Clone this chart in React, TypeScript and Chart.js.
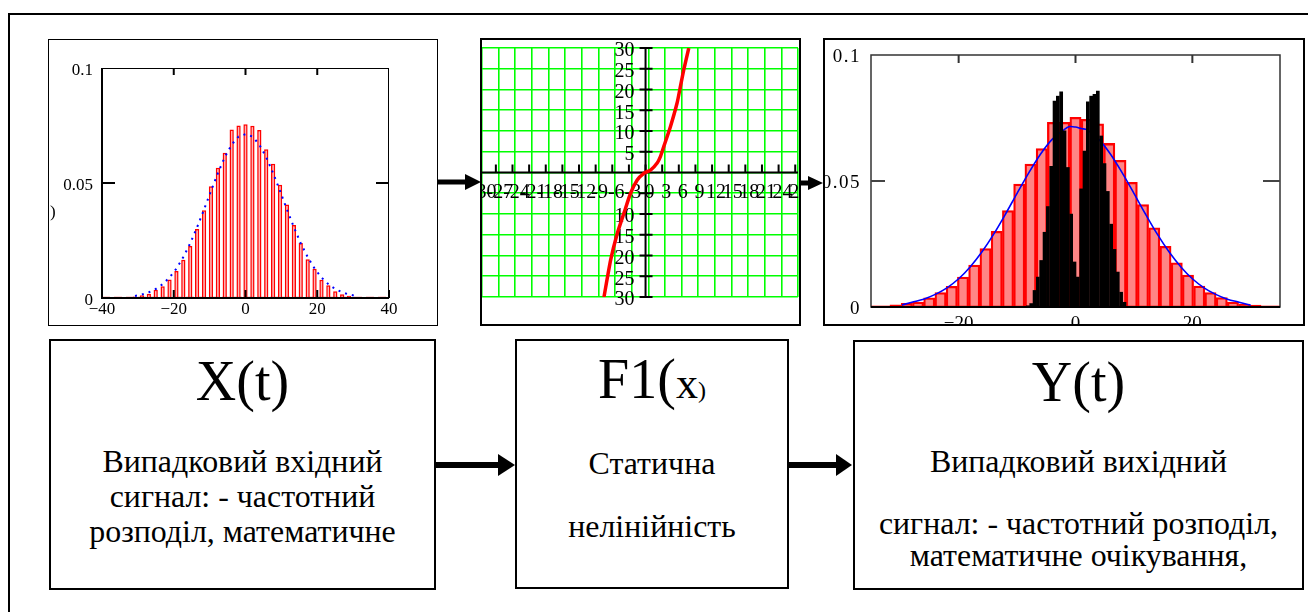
import React, { useEffect, useRef, useMemo } from "react";
import { Chart, registerables } from "chart.js";

Chart.register(...registerables);

const SERIF = '"Liberation Serif", "Times New Roman", serif';
const BODY = SERIF;

// ---------- Panel 1 & 3: histogram of the input signal X(t) ----------
const binCenters = [
  -30.8, -28.88, -26.95, -25.03, -23.1, -21.18, -19.25, -17.33, -15.4, -13.48, -11.55,
  -9.63, -7.7, -5.78, -3.85, -1.93, 0, 1.93, 3.85, 5.78, 7.7, 9.63, 11.55, 13.48, 15.4,
  17.33, 19.25, 21.18, 23.1, 25.03, 26.95, 28.88, 30.8,
];
const inputHist = [
  0.0007, 0.0012, 0.0018, 0.0036, 0.0051, 0.008, 0.0117, 0.0166, 0.0226, 0.03, 0.0382,
  0.0486, 0.0566, 0.0631, 0.0733, 0.075, 0.0755, 0.0749, 0.073, 0.0647, 0.0584, 0.0492,
  0.0407, 0.0317, 0.0239, 0.0169, 0.0127, 0.0079, 0.0055, 0.0029, 0.0016, 0.001, 0.0004,
];
const inputPdf = [
  0.0009, 0.0015, 0.0025, 0.0039, 0.006, 0.0089, 0.0128, 0.0178, 0.0238, 0.0308, 0.0385,
  0.0465, 0.0543, 0.0612, 0.0667, 0.0702, 0.0712, 0.0702, 0.0667, 0.0612, 0.0543, 0.0465,
  0.0385, 0.0308, 0.0238, 0.0178, 0.0128, 0.0089, 0.006, 0.0039, 0.0025, 0.0015, 0.0009,
];
const inputHist3 = [
  0.0009, 0.0015, 0.002, 0.0036, 0.0057, 0.0082, 0.0119, 0.0166, 0.0232, 0.03, 0.0383,
  0.0488, 0.0567, 0.0629, 0.0733, 0.0733, 0.0753, 0.0745, 0.0727, 0.0649, 0.0582, 0.0495,
  0.0406, 0.0314, 0.0241, 0.0175, 0.0127, 0.0083, 0.0057, 0.0037, 0.002, 0.0012, 0.0008,
];
const pdf3X = [
  -29.7, -28, -26, -24, -22, -20, -18, -16, -14, -12, -10, -8, -6, -4, -2, -1, 0, 1, 2, 4,
  6, 8, 10, 12, 14, 16, 18, 20, 22, 24, 26, 28, 30,
];
const pdf3Y = [
  0.0008, 0.0019, 0.0031, 0.005, 0.0076, 0.0112, 0.016, 0.0219, 0.0289, 0.0368, 0.0451,
  0.0532, 0.0606, 0.0665, 0.0703, 0.0716, 0.0714, 0.0708, 0.0703, 0.0665, 0.0606, 0.0532,
  0.0451, 0.0368, 0.0289, 0.0219, 0.016, 0.0112, 0.0076, 0.005, 0.0031, 0.0019, 0.0007,
];

// ---------- Panel 3: histogram of the output signal Y(t) ----------
const outBinCenters = [
  -8.15, -7.58, -7.01, -6.44, -5.87, -5.3, -4.73, -4.16, -3.59, -3.02, -2.45, -1.88, -1.31,
  -0.74, -0.17, 0.4, 0.97, 1.54, 2.11, 2.68, 3.25, 3.82, 4.39, 4.96, 5.53, 6.1, 6.67, 7.24,
  7.81, 8.38,
];
const outputHist = [
  0.0006, 0.0015, 0.0067, 0.012, 0.0186, 0.0298, 0.04, 0.056, 0.0818, 0.0838, 0.0855, 0.07,
  0.0555, 0.037, 0.018, 0.012, 0.047, 0.062, 0.0815, 0.0838, 0.0845, 0.0858, 0.068, 0.057,
  0.046, 0.033, 0.023, 0.014, 0.006, 0.002,
];

// ---------- Panel 2: static nonlinearity F1(x) ----------
const f1X = [-7.5, -6.3, -5.1, -3.9, -2.7, -1.5, -0.3, 0.9, 2.1, 2.7, 3.3, 4.5, 5.7, 6.3, 6.9, 7.8];
const f1Y = [-30, -21.1, -14.7, -9.8, -5, -1.8, -0.2, 0.6, 2.3, 3.9, 6.3, 11.1, 16.8, 20.8, 24.8, 30];

// ---------- tick labels ----------
const p1XTicks = [-40, -20, 0, 20, 40];
const p1XLabels = ["\u221240", "\u221220", "0", "20", "40"];
const p1YTicks = [0, 0.05, 0.1];
const p1YLabels = ["0", "0.05", "0.1"];

const p2XTicks = [-30, -27, -24, -21, -18, -15, -12, -9, -6, -3, 0, 3, 6, 9, 12, 15, 18, 21, 24, 27];
const p2XLabels = ["-30", "-27", "-24", "-21", "-18", "-15", "-12", "-9", "-6", "-3", "0", "3", "6", "9", "12", "15", "18", "21", "24", "27"];
const p2YTicks = [30, 25, 20, 15, 10, 5, -10, -15, -20, -25, -30];
const p2YLabels = ["30", "25", "20", "15", "10", "5", "10", "15", "20", "25", "30"];
const p2TickMarksY = [30, 25, 20, 15, 10, 5, -5, -10, -15, -20, -25, -30];

const p3XTicks = [-20, 0, 20];
const p3XLabels = ["\u221220", "0", "20"];
const p3YTicks = [0, 0.05, 0.1];
const p3YLabels = ["0", "0.05", "0.1"];

const pts = (xs: number[], ys: number[]) => xs.map((x, i) => ({ x, y: ys[i] }));

function seg(ctx: any, x1: number, y1: number, x2: number, y2: number, w: number, c = "#000") {
  ctx.beginPath();
  ctx.lineWidth = w;
  ctx.strokeStyle = c;
  ctx.moveTo(x1, y1);
  ctx.lineTo(x2, y2);
  ctx.stroke();
}
function txt(ctx: any, s: string, x: number, y: number, size: number, align: string, spacing = 0) {
  ctx.font = `${size}px ${SERIF}`;
  ctx.fillStyle = "#000";
  ctx.textAlign = align;
  ctx.textBaseline = "middle";
  try {
    ctx.letterSpacing = spacing + "px";
  } catch (e) {}
  ctx.fillText(s, x, y);
  try {
    ctx.letterSpacing = "0px";
  } catch (e) {}
}

const common = {
  animation: false,
  responsive: false,
  events: [],
  plugins: { legend: { display: false }, tooltip: { enabled: false } },
};

function config1(): any {
  const deco = {
    id: "deco1",
    afterDraw(chart: any) {
      const { ctx, chartArea: a, scales } = chart;
      const x = scales.x, y = scales.y;
      ctx.save();
      seg(ctx, a.left, a.top + 0.5, a.right, a.top + 0.5, 1);
      seg(ctx, a.right - 0.5, a.top, a.right - 0.5, a.bottom, 1);
      seg(ctx, a.left, a.top, a.left, a.bottom + 1, 2);
      seg(ctx, a.left - 1, a.bottom, a.right, a.bottom, 2);
      p1XTicks.forEach((v) => {
        const px = x.getPixelForValue(v);
        if (v > -40 && v < 40) seg(ctx, px, a.top, px, a.top + 7, 2);
        seg(ctx, px, a.bottom, px, a.bottom - 8, 2);
      });
      const py = y.getPixelForValue(0.05);
      seg(ctx, a.left, py, a.left + 13, py, 2);
      seg(ctx, a.right - 13, py, a.right, py, 2);
      p1YTicks.forEach((v, i) => txt(ctx, p1YLabels[i], a.left - 9, y.getPixelForValue(v) + 3, 17, "right"));
      p1XTicks.forEach((v, i) => txt(ctx, p1XLabels[i], x.getPixelForValue(v), a.bottom + 12, 17, "center"));
      txt(ctx, ")", 1, 173, 17, "left");
      ctx.restore();
    },
  };
  return {
    type: "bar",
    data: {
      datasets: [
        {
          type: "line",
          data: pts(binCenters, inputPdf),
          borderColor: "#0000ff",
          borderWidth: 2,
          borderDash: [2, 5],
          pointRadius: 0,
          order: 1,
        },
        {
          type: "bar",
          data: pts(binCenters, inputHist),
          backgroundColor: "rgba(255,110,110,0.5)",
          borderColor: "#ff0000",
          borderWidth: 1.5,
          barPercentage: 0.62,
          categoryPercentage: 1,
          order: 2,
        },
        {
          type: "line",
          data: [{ x: -40, y: 0.0004 }, { x: 40, y: 0.0004 }],
          borderColor: "#ffa0a0",
          borderWidth: 1,
          borderDash: [8, 4],
          pointRadius: 0,
          order: 3,
        },
      ],
    },
    options: {
      ...common,
      layout: { padding: { left: 53, top: 28, right: 48, bottom: 27 } },
      scales: {
        x: { type: "linear", min: -40, max: 40, offset: false, display: false },
        y: { min: 0, max: 0.1, display: false },
      },
    },
    plugins: [deco],
  };
}

function config2(): any {
  const deco = {
    id: "deco2",
    beforeDatasetsDraw(chart: any) {
      const { ctx, chartArea: a, scales } = chart;
      const x = scales.x, y = scales.y;
      const x0 = x.getPixelForValue(0);
      const y0 = y.getPixelForValue(0);
      ctx.save();
      seg(ctx, a.left, y0, a.right, y0, 2);
      seg(ctx, x0, a.top, x0, a.bottom, 2);
      p2TickMarksY.forEach((v) => {
        const py = y.getPixelForValue(v);
        seg(ctx, x0 - 6, py, x0 + 7, py, 2);
      });
      p2XTicks.forEach((v) => {
        const px = x.getPixelForValue(v);
        seg(ctx, px, y0 - 8, px, y0, 2);
      });
      p2YTicks.forEach((v, i) => txt(ctx, p2YLabels[i], x0 - 11, y.getPixelForValue(v) + 3, 20, "right"));
      p2XTicks.forEach((v, i) => txt(ctx, p2XLabels[i], x.getPixelForValue(v) + 4, y0 + 20, 20, "center"));
      ctx.restore();
    },
  };
  const zero = (axis: string) => (s: any) => {
    if (axis === "x") s.height = 0;
    else s.width = 0;
  };
  return {
    type: "line",
    data: {
      datasets: [
        {
          data: pts(f1X, f1Y),
          borderColor: "#ff0000",
          borderWidth: 3.5,
          pointRadius: 0,
          tension: 0.2,
        },
      ],
    },
    options: {
      ...common,
      layout: { padding: { left: 0, top: 8, right: 1, bottom: 27 } },
      scales: {
        x: {
          type: "linear",
          min: -29.5,
          max: 27.5,
          ticks: { display: false, stepSize: 3 },
          grid: { color: "#00ff00", lineWidth: 1.6, drawTicks: false },
          border: { display: false },
          afterFit: zero("x"),
        },
        y: {
          type: "linear",
          min: -30,
          max: 30,
          ticks: { display: false, stepSize: 5 },
          grid: { color: "#00ff00", lineWidth: 1.6, drawTicks: false },
          border: { display: false },
          afterFit: zero("y"),
        },
      },
    },
    plugins: [deco],
  };
}

function config3(): any {
  const deco = {
    id: "deco3",
    afterDraw(chart: any) {
      const { ctx, chartArea: a, scales } = chart;
      const x = scales.x, y = scales.y;
      ctx.save();
      ctx.lineWidth = 1.5;
      ctx.strokeStyle = "#333";
      ctx.strokeRect(a.left, a.top, a.right - a.left, a.bottom - a.top);
      seg(ctx, a.left, a.bottom, a.right, a.bottom, 2);
      p3XTicks.forEach((v) => {
        const px = x.getPixelForValue(v);
        seg(ctx, px, a.top, px, a.top + 8, 2, "#333");
      });
      const py = y.getPixelForValue(0.05);
      seg(ctx, a.left, py, a.left + 14, py, 2, "#444");
      seg(ctx, a.right - 17, py, a.right, py, 2, "#444");
      p3YTicks.forEach((v, i) => txt(ctx, p3YLabels[i], a.left - 10, y.getPixelForValue(v) + 2, 19, "right", 1.5));
      p3XTicks.forEach((v, i) => txt(ctx, p3XLabels[i], x.getPixelForValue(v), a.bottom + 17, 19, "center"));
      ctx.restore();
    },
  };
  return {
    type: "bar",
    data: {
      datasets: [
        {
          type: "bar",
          xAxisID: "x2",
          data: pts(outBinCenters, outputHist),
          backgroundColor: "#000000",
          borderWidth: 0,
          barPercentage: 1.1,
          categoryPercentage: 1,
          grouped: false,
          order: 1,
        },
        {
          type: "line",
          data: pts(pdf3X, pdf3Y),
          borderColor: "#0000ff",
          borderWidth: 1.6,
          pointRadius: 0,
          tension: 0.3,
          order: 2,
        },
        {
          type: "bar",
          data: pts(binCenters, inputHist3),
          backgroundColor: "rgba(255,0,0,0.48)",
          borderColor: "#ff0000",
          borderWidth: 1.6,
          barPercentage: 1,
          categoryPercentage: 1,
          grouped: false,
          order: 3,
        },
        {
          type: "line",
          data: [{ x: -35, y: 0.0004 }, { x: 35, y: 0.0004 }],
          borderColor: "#ffb0b0",
          borderWidth: 2,
          pointRadius: 0,
          order: 4,
        },
      ],
    },
    options: {
      ...common,
      layout: { padding: { left: 46, top: 15, right: 23, bottom: 17 } },
      scales: {
        x: { type: "linear", min: -35, max: 35, offset: false, display: false },
        x2: { type: "linear", min: -35, max: 35, offset: false, display: false },
        y: { min: 0, max: 0.1, display: false },
      },
    },
    plugins: [deco],
  };
}

function ChartCanvas(props: { left: number; top: number; width: number; height: number; make: () => any }) {
  const ref = useRef<HTMLCanvasElement>(null);
  useEffect(() => {
    const c = new Chart(ref.current as HTMLCanvasElement, props.make());
    return () => c.destroy();
  }, []);
  return (
    <canvas
      ref={ref}
      width={props.width}
      height={props.height}
      style={{ position: "absolute", left: props.left, top: props.top, width: props.width, height: props.height }}
    />
  );
}

function Line(props: { children: any; baseline: number; boxTop: number; size: number; family?: string }) {
  const top = props.baseline - props.boxTop - 2 - 0.8375 * props.size;
  return (
    <div
      style={{
        position: "absolute",
        left: 0,
        right: 0,
        top,
        textAlign: "center",
        fontSize: props.size,
        lineHeight: props.size + "px",
        whiteSpace: "nowrap",
        fontFamily: props.family || SERIF,
      }}
    >
      {props.children}
    </div>
  );
}

function Box(props: { l: number; t: number; r: number; b: number; w: number; children?: any }) {
  return (
    <div
      style={{
        position: "absolute",
        left: props.l,
        top: props.t,
        width: props.r - props.l - 2 * props.w,
        height: props.b - props.t - 2 * props.w,
        border: `${props.w}px solid #000`,
        overflow: "hidden",
      }}
    >
      {props.children}
    </div>
  );
}

function fitSize(text: string, target: number, family: string) {
  try {
    const c = document.createElement("canvas").getContext("2d") as any;
    c.font = `100px ${family}`;
    const w = c.measureText(text).width;
    if (w > 0) return Math.round((1000 * target) / w) / 10;
  } catch (e) {}
  return 32;
}

export default function App() {
  const T = 56;
  const S = useMemo(() => fitSize("Випадковий вхідний", 280, BODY), []);
  return (
    <div
      style={{
        position: "fixed",
        left: 0,
        top: 0,
        width: 1308,
        height: 612,
        overflow: "hidden",
        background: "#fff",
        fontFamily: SERIF,
      }}
    >
      <div style={{ position: "absolute", left: 8, top: 13, width: 1400, height: 700, border: "2px solid #000" }} />

      <Box l={48} t={39} r={438} b={326} w={1} />
      <ChartCanvas left={49} top={40} width={388} height={285} make={config1} />

      <Box l={480} t={38} r={801} b={326} w={2} />
      <ChartCanvas left={482} top={40} width={317} height={284} make={config2} />

      <Box l={823} t={38} r={1305} b={326} w={2} />
      <ChartCanvas left={825} top={40} width={478} height={284} make={config3} />

      <Box l={49} t={339} r={436} b={590} w={2}>
        <Line baseline={400} boxTop={339} size={T}>X(t)</Line>
        <Line baseline={473} boxTop={339} size={S} family={BODY}>Випадковий вхідний</Line>
        <Line baseline={508} boxTop={339} size={S} family={BODY}>сигнал: - частотний</Line>
        <Line baseline={543} boxTop={339} size={S} family={BODY}>розподіл, математичне</Line>
      </Box>

      <Box l={515} t={339} r={789} b={589} w={2}>
        <Line baseline={398} boxTop={339} size={T}>
          F1(<span style={{ fontSize: 44 }}>x</span>
          <span style={{ fontSize: 24 }}>)</span>
        </Line>
        <Line baseline={475} boxTop={339} size={S} family={BODY}>Статична</Line>
        <Line baseline={538} boxTop={339} size={S} family={BODY}>нелінійність</Line>
      </Box>

      <Box l={853} t={340} r={1304} b={590} w={2}>
        <Line baseline={401} boxTop={340} size={T}>Y(t)</Line>
        <Line baseline={473} boxTop={340} size={S} family={BODY}>Випадковий вихідний</Line>
        <Line baseline={535} boxTop={340} size={S} family={BODY}>сигнал: - частотний розподіл,</Line>
        <Line baseline={567} boxTop={340} size={S} family={BODY}>математичне очікування,</Line>
      </Box>

      <svg style={{ position: "absolute", left: 0, top: 0 }} width={1308} height={612}>
        <line x1={437} y1={182} x2={467} y2={182} stroke="#000" strokeWidth={5} />
        <polygon points="465,174 481,182 465,190" fill="#000" />
        <line x1={801} y1={183} x2={810} y2={183} stroke="#000" strokeWidth={5} />
        <polygon points="808,176 823,183 808,190" fill="#000" />
        <line x1={436} y1={465} x2={500} y2={465} stroke="#000" strokeWidth={6} />
        <polygon points="498,454 515,465 498,476" fill="#000" />
        <line x1={789} y1={465} x2={838} y2={465} stroke="#000" strokeWidth={6} />
        <polygon points="836,454 852,465 836,476" fill="#000" />
      </svg>
    </div>
  );
}
